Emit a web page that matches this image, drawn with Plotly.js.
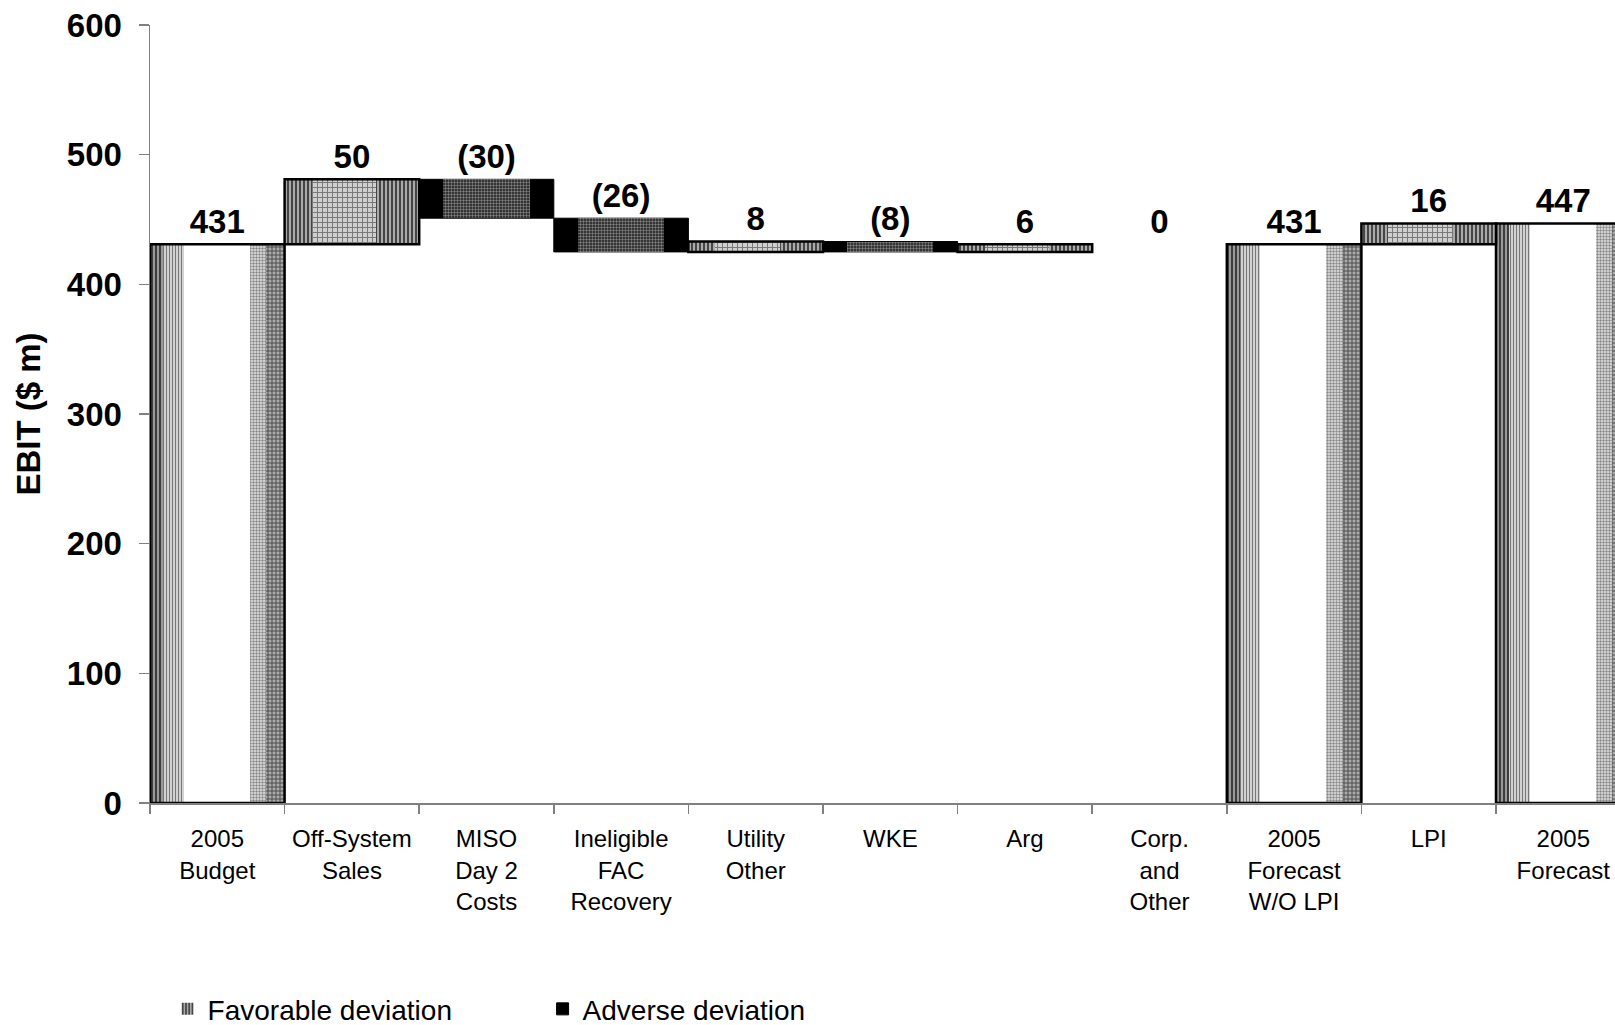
<!DOCTYPE html>
<html>
<head>
<meta charset="utf-8">
<script src="https://cdn.plot.ly/plotly-3.0.1.min.js"></script>
<style>
  html, body { margin: 0; padding: 0; background: #ffffff; }
  #chart { width: 1615px; height: 1025px; }
</style>
</head>
<body>
<div id="chart"></div>
<script>
// ---- data ----
const categories = [
  "2005<br>Budget", "Off-System<br>Sales", "MISO<br>Day 2<br>Costs",
  "Ineligible<br>FAC<br>Recovery", "Utility<br>Other", "WKE", "Arg",
  "Corp.<br>and<br>Other", "2005<br>Forecast<br>W/O LPI", "LPI", "2005<br>Forecast"
];
const values = [431, 50, -30, -26, 8, -8, 6, 0, 431, 16, 447];
const barKinds = ["total", "delta", "delta", "delta", "delta", "delta", "delta", "delta", "total", "delta", "total"];
const valueLabels = ["431", "50", "(30)", "(26)", "8", "(8)", "6", "0", "431", "16", "447"];
const yTickValues = [0, 100, 200, 300, 400, 500, 600];
const legendNames = ["Favorable deviation", "Adverse deviation"];

// ---- derived waterfall geometry (from the data) ----
const bases = [], heights = [], classes = [];
let running = 0;
values.forEach((v, i) => {
  if (barKinds[i] === "total") {
    bases.push(0); heights.push(v); running = v; classes.push("total");
  } else {
    bases.push(v >= 0 ? running : running + v);
    heights.push(Math.abs(v));
    running += v;
    classes.push(v >= 0 ? "fav" : "adv");
  }
});
const tops = bases.map((b, i) => b + heights[i]);
// zero-height steps draw nothing
const mask = (arr, cls) => arr.map((v, i) => (classes[i] === cls && heights[i] !== 0) ? v : null);

function layer(cls, opts) {
  return Object.assign({
    type: "bar",
    x: categories,
    y: mask(heights, cls),
    base: mask(bases, cls),
    width: 1,
    offset: -0.5,
    hoverinfo: "skip",
    showlegend: false,
    marker: { color: "#ffffff", line: { width: 0 } }
  }, opts);
}

const traces = [
  // totals: white body with grey striped edges
  layer("total", { marker: { color: "#ffffff", line: { width: 0 } } }),
  layer("total", { offset: -0.5, width: 0.1,
    marker: { color: "#888", line: { width: 0 }, pattern: { shape: "|", fgcolor: "#333", bgcolor: "#999", size: 4, solidity: 0.45 } } }),
  layer("total", { offset: -0.4, width: 0.15,
    marker: { color: "#ddd", line: { width: 0 }, pattern: { shape: "|", fgcolor: "#777", bgcolor: "#dcdcdc", size: 3, solidity: 0.4 } } }),
  layer("total", { offset: 0.24, width: 0.12,
    marker: { color: "#eee", line: { width: 0 }, pattern: { shape: ".", fgcolor: "#888", bgcolor: "#e6e6e6", size: 3, solidity: 0.5 } } }),
  layer("total", { offset: 0.36, width: 0.14,
    marker: { color: "#999", line: { width: 0 }, pattern: { shape: "+", fgcolor: "#444", bgcolor: "#aaa", size: 4, solidity: 0.4 } } }),
  layer("total", { marker: { color: "rgba(0,0,0,0)", line: { width: 2.5, color: "#000" } } }),

  // favorable deviations
  layer("fav", { name: legendNames[0], showlegend: true,
    marker: { color: "#aaa", line: { width: 0 }, pattern: { shape: "|", fgcolor: "#3a3a3a", bgcolor: "#aaaaaa", size: 4, solidity: 0.45 } } }),
  layer("fav", { offset: -0.3, width: 0.48,
    marker: { color: "#ccc", line: { width: 0 }, pattern: { shape: "+", fgcolor: "#777", bgcolor: "#cfcfcf", size: 5, solidity: 0.35 } } }),
  layer("fav", { marker: { color: "rgba(0,0,0,0)", line: { width: 2.5, color: "#000" } } }),

  // adverse deviations
  layer("adv", { name: legendNames[1], showlegend: true,
    marker: { color: "#000", line: { width: 1, color: "#000" } } }),
  layer("adv", { offset: -0.32, width: 0.64,
    marker: { color: "#222", line: { width: 0 }, pattern: { shape: ".", fgcolor: "#808080", bgcolor: "#1a1a1a", size: 3, solidity: 0.5 } } }),

  // value labels
  {
    type: "scatter", mode: "text+markers", x: categories, y: tops, text: valueLabels,
    marker: { size: 3, opacity: 0, color: "#ffffff" },
    textposition: "top center", cliponaxis: false, hoverinfo: "skip", showlegend: false,
    textfont: { family: "Liberation Sans, Arial, sans-serif", size: 33, weight: "bold", color: "#000" }
  }
];

const layout = {
  width: 1615, height: 1025,
  margin: { l: 150, r: 0, t: 25, b: 222, autoexpand: false },
  paper_bgcolor: "#ffffff", plot_bgcolor: "#ffffff",
  barmode: "overlay",
  bargap: 0,
  showlegend: true,
  font: { family: "Liberation Sans, Arial, sans-serif", color: "#000" },
  xaxis: {
    type: "category",
    range: [-0.5, 10.384],
    showline: true, linecolor: "#808080", linewidth: 1.5,
    ticks: "outside", tickson: "boundaries", ticklen: 9, tickcolor: "#808080", tickwidth: 1.5,
    ticklabelstandoff: 14,
    tickfont: { size: 24, color: "#000" },
    showgrid: false, zeroline: false, automargin: false, fixedrange: true
  },
  yaxis: {
    range: [0, 600],
    tickvals: yTickValues,
    ticktext: yTickValues.map(String),
    showline: true, linecolor: "#808080", linewidth: 1.5,
    ticks: "outside", ticklen: 10, tickcolor: "#808080", tickwidth: 1.5,
    ticklabelstandoff: 10,
    tickfont: { size: 33, weight: "bold", color: "#000" },
    showgrid: false, zeroline: false, automargin: false, fixedrange: true,
    title: { text: "EBIT ($ m)", font: { size: 33, weight: "bold", color: "#000" }, standoff: 16 }
  },
  legend: {
    orientation: "h",
    x: 0.012, xanchor: "left",
    y: -0.265, yanchor: "middle",
    entrywidth: 330, entrywidthmode: "pixels",
    itemwidth: 30,
    font: { size: 28, color: "#000" },
    bgcolor: "rgba(0,0,0,0)",
    traceorder: "normal"
  }
};

Plotly.newPlot("chart", traces, layout, { displayModeBar: false, staticPlot: true });
</script>
</body>
</html>
